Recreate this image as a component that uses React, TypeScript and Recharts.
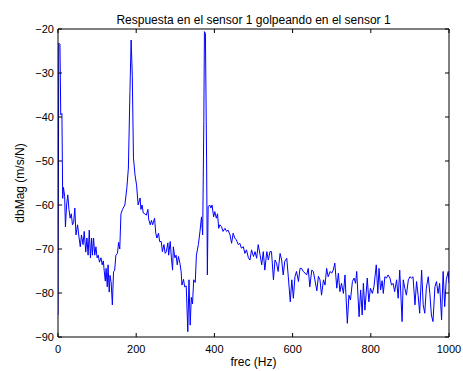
import React from "react";
import { LineChart, Line, XAxis, YAxis } from "recharts";

const title = "Respuesta en el sensor 1 golpeando en el sensor 1";
const xLabel = "frec (Hz)";
const yLabel = "dbMag (m/s/N)";
const xTicks = [0, 200, 400, 600, 800, 1000];
const yTicks = [-90, -80, -70, -60, -50, -40, -30, -20];

const freq = [
  0, 2, 5, 7, 10, 12, 14, 17, 19, 22, 25, 28, 31, 34, 37, 40, 43, 46, 50, 54, 57, 60, 64, 67, 71, 74, 77, 80, 83, 86, 88, 91, 94, 97,
  100, 103, 106, 110, 113, 116, 118, 121, 123, 126, 128, 131, 133, 136, 139, 142, 145, 148, 152, 155, 158, 161, 165, 171, 176, 180,
  184, 187, 190, 193, 197, 201, 205, 210, 212, 215, 218, 222, 226, 230, 232, 236, 239, 242, 247, 250, 253, 257, 260, 264, 267, 271,
  274, 277, 281, 283, 287, 290, 293, 295, 299, 302, 305, 308, 312, 315, 317, 321, 324, 328, 332, 335, 338, 341, 344, 347, 351, 354,
  359, 363, 367, 370, 373, 374.5, 377, 380, 382, 384, 388, 391, 394, 398, 401, 405, 408, 411, 414, 418, 422, 427, 431, 435, 440, 444,
  448, 452, 456, 461, 465, 469, 474, 478, 482, 487, 491, 495, 500, 504, 508, 512, 517, 521, 525, 529, 534, 538, 542, 546, 551, 555,
  559, 563, 568, 572, 576, 580, 585, 589, 594, 598, 602, 606, 610, 615, 619, 623, 627, 632, 636, 640, 644, 649, 653, 657, 662, 666,
  670, 674, 679, 683, 687, 691, 696, 700, 704, 708, 713, 717, 721, 725, 730, 734, 740, 744, 748, 753, 757, 761, 764, 770, 774, 778,
  781, 785, 791, 795, 799, 804, 808, 814, 818, 821, 825, 829, 832, 836, 840, 844, 849, 853, 857, 861, 866, 870, 874, 880, 883, 887,
  891, 896, 900, 904, 908, 913, 917, 921, 925, 930, 934, 938, 942, 947, 951, 955, 959, 964, 968, 972, 976, 981, 985, 989, 993, 998, 1000,
];

const mag = [
  -85, -23.2, -23.5, -39.5, -39.2, -58.5, -56, -58, -65, -60, -57.7, -61, -63, -62, -64.5, -64, -60.7, -66.8, -64.5, -67.5, -69.5, -66.8, -69, -66, -70.7, -67.5, -71.4, -65.7, -72, -67.5, -71.4, -67.5, -71.4, -69.5,
  -72, -71.4, -73, -72, -73.6, -72.7, -74.8, -77.3, -74.4, -78.6, -73.6, -79.8, -76, -77.7, -82.7, -75.2, -74.8, -71.4, -71, -68.5, -70, -62, -61, -60, -56.2, -51.6,
  -34.2, -22.5, -30.5, -49.3, -53.2, -55.5, -60, -58.4, -61, -60, -61.8, -62, -62.3, -61, -63.3, -64.5, -63.5, -64.5, -63, -66.4, -67.5, -66.4, -68.3, -68.3, -70.6, -69,
  -71, -70.6, -68.6, -71.4, -68.3, -72, -74.8, -69.5, -72, -71.4, -73.6, -71.7, -73.3, -75.2, -78.2, -76.9, -78.6, -78.4, -88.8, -77, -87.3, -81, -82.5, -77, -77.6, -71.4,
  -69, -66.1, -62.7, -66.8, -41, -20.6, -21, -49.3, -75.9, -60.4, -60, -60.7, -60, -62.7, -61.5, -63, -62, -65.3, -64.5, -64.9, -66, -65.3, -66, -65.7, -66.8, -68.7,
  -66.4, -67.5, -67.9, -69, -68.7, -69.8, -69.5, -71, -70.2, -72, -72.5, -70.2, -71.7, -70.6, -72.1, -69, -71.4, -73.6, -70.6, -74.8, -70.6, -72.5, -70.6, -70.6, -77, -72.5,
  -73.2, -75.1, -71, -72.5, -75.9, -72.8, -72.1, -76.3, -82, -77, -81.2, -76.3, -75.1, -77.4, -74.4, -74.4, -75.1, -75.5, -75.9, -74.4, -78.6, -74.8, -75.1, -77, -79.5, -76.2,
  -77, -80.5, -77, -78.2, -74.4, -76.3, -75.1, -75.5, -74.8, -73.2, -78.9, -75.5, -79.7, -77.8, -80.1, -75.9, -86.9, -80.5, -81.6, -77.4, -76.6, -77.8, -75.1, -85.4, -79.3, -85,
  -77.8, -83.9, -76.6, -82, -78.9, -80.1, -78.6, -73.6, -80.1, -74.4, -79.3, -77.2, -80.1, -76.3, -76.6, -75.9, -76.6, -78.2, -77.8, -79.7, -77, -81.2, -74.8, -86.5, -77, -78.9,
  -80.5, -77, -76.3, -76.6, -76.3, -82.7, -77.4, -80.5, -84.6, -74.8, -82.7, -84.6, -78.9, -76.3, -80.1, -85, -86.5, -78.6, -77.4, -80.1, -77.8, -86.1, -75.1, -83.1, -77, -75.1, -77.8,
];

const data = freq.map((f, i) => ({ f, m: mag[i] }));

const FONT = "'Liberation Sans', Arial, Helvetica, sans-serif";
const FS = 11;
const LFS = 12;
const TICK = 4;
const fmt = (v: number) => (v < 0 ? "\u2212" + Math.abs(v) : String(v));

const BottomTick = (props: any) => {
  const { x, y, payload } = props;
  const axisY = y - 8;
  return (
    <g>
      <line x1={x} x2={x} y1={axisY} y2={axisY - TICK} stroke="#000" strokeWidth={1} />
      <text x={x} y={y} dy="0.71em" textAnchor="middle" fontFamily={FONT} fontSize={FS} fill="#000">
        {fmt(payload.value)}
      </text>
    </g>
  );
};

const TopTick = (props: any) => {
  const { x, y } = props;
  return <line x1={x} x2={x} y1={y} y2={y + TICK} stroke="#000" strokeWidth={1} />;
};

const LeftTick = (props: any) => {
  const { x, y, payload } = props;
  const axisX = x + 4;
  return (
    <g>
      <line x1={axisX} x2={axisX + TICK} y1={y} y2={y} stroke="#000" strokeWidth={1} />
      <text x={x} y={y} dy="0.355em" textAnchor="end" fontFamily={FONT} fontSize={FS} fill="#000">
        {fmt(payload.value)}
      </text>
    </g>
  );
};

const RightTick = (props: any) => {
  const { x, y } = props;
  return <line x1={x} x2={x - TICK} y1={y} y2={y} stroke="#000" strokeWidth={1} />;
};

const TitleLabel = (props: any) => {
  const vb = props.viewBox;
  return (
    <text x={vb.x + vb.width / 2} y={vb.y + vb.height - 5} textAnchor="middle" fontFamily={FONT} fontSize={LFS} fill="#000">
      {title}
    </text>
  );
};

const XLabel = (props: any) => {
  const vb = props.viewBox;
  return (
    <text x={vb.x + vb.width / 2} y={vb.y + 29} textAnchor="middle" fontFamily={FONT} fontSize={LFS} fill="#000">
      {xLabel}
    </text>
  );
};

const YLabel = (props: any) => {
  const vb = props.viewBox;
  const cx = vb.x - 4;
  const cy = vb.y + vb.height / 2;
  return (
    <text x={cx} y={cy} transform={`rotate(-90, ${cx}, ${cy})`} textAnchor="middle" fontFamily={FONT} fontSize={LFS} fill="#000">
      {yLabel}
    </text>
  );
};

export default function App() {
  return (
    <div style={{ position: "absolute", left: 0, top: 0, width: 463, height: 371 }}>
      <LineChart
        width={463}
        height={371}
        data={data}
        margin={{ top: 28, right: 13, bottom: 14, left: 28 }}
        style={{ background: "#fff" }}
      >
        <XAxis
          xAxisId="b"
          dataKey="f"
          type="number"
          domain={[0, 1000]}
          ticks={xTicks}
          height={20}
          tickSize={0}
          tickMargin={8}
          tickLine={false}
          axisLine={{ stroke: "#000", strokeWidth: 1 }}
          tick={<BottomTick />}
          interval={0}
          allowDataOverflow
          label={{ content: <XLabel /> }}
        />
        <XAxis
          xAxisId="t"
          orientation="top"
          dataKey="f"
          type="number"
          domain={[0, 1000]}
          ticks={xTicks}
          height={1}
          tickSize={0}
          tickMargin={0}
          tickLine={false}
          axisLine={{ stroke: "#000", strokeWidth: 1 }}
          tick={<TopTick />}
          interval={0}
          allowDataOverflow
          label={{ content: <TitleLabel /> }}
        />
        <YAxis
          yAxisId="l"
          type="number"
          domain={[-90, -20]}
          ticks={yTicks}
          width={30}
          tickSize={0}
          tickMargin={4}
          tickLine={false}
          axisLine={{ stroke: "#000", strokeWidth: 1 }}
          tick={<LeftTick />}
          interval={0}
          allowDataOverflow
          label={{ content: <YLabel /> }}
        />
        <YAxis
          yAxisId="r"
          orientation="right"
          type="number"
          domain={[-90, -20]}
          ticks={yTicks}
          width={1}
          tickSize={0}
          tickMargin={0}
          tickLine={false}
          axisLine={{ stroke: "#000", strokeWidth: 1 }}
          tick={<RightTick />}
          interval={0}
          allowDataOverflow
        />
        <Line
          xAxisId="t"
          yAxisId="r"
          dataKey="m"
          type="linear"
          stroke="#000"
          strokeOpacity={0}
          strokeWidth={1}
          dot={false}
          activeDot={false}
          legendType="none"
          isAnimationActive={false}
        />
        <Line
          xAxisId="b"
          yAxisId="l"
          dataKey="m"
          type="linear"
          stroke="#0000ff"
          strokeWidth={1}
          dot={false}
          activeDot={false}
          isAnimationActive={false}
        />
      </LineChart>
    </div>
  );
}
